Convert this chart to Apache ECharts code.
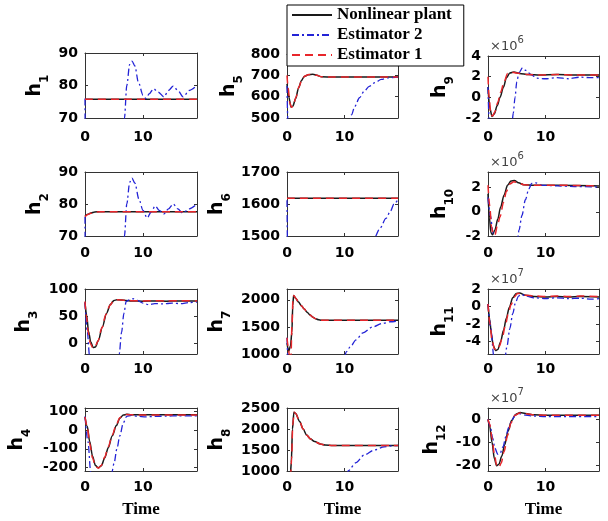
<!DOCTYPE html>
<html><head><meta charset="utf-8">
<script src="https://cdn.jsdelivr.net/npm/echarts@6/dist/echarts.min.js"></script>
<style>html,body{margin:0;padding:0;background:#fff}#c{width:608px;height:521px}</style>
</head><body><div id="c"></div>
<script>
// ---------------- data ----------------
const seriesNames = ['Nonlinear plant', 'Estimator 2', 'Estimator 1'];
const panelSubs = ['1','2','3','4','5','6','7','8','9','10','11','12'];
const timeMax = 19.3;
const xTickValues = [0, 10];
const xLabelName = 'Time';
const yMin = [70, 70, -20, -220, 500, 1500, 1000, 1000, -2, -2, -5.4, -22.5];
const yMax = [90, 90, 100, 120, 800, 1700, 2200, 2500, 4, 3.3, 2, 5];
const yTicks = [
  [70,80,90],[70,80,90],[0,50,100],[-200,-100,0,100],
  [500,600,700,800],[1500,1600,1700],[1000,1500,2000],[1000,1500,2000,2500],
  [-2,0,2,4],[-2,0,2],[-4,-2,0,2],[-20,-10,0]
];
// exponent multiplier (x10^n) shown above panels; values in h9..h12 are given in those units
const yExponent = [null,null,null,null,null,null,null,null,'6','6','7','7'];

const h1_plant = [[0,75.8],[19.3,75.8]];
const h1_est1  = [[0,75.8],[19.3,75.8]];
const h1_est2  = [[0,76],[0.05,60],[6.6,60],[6.8,70],[7.2,80],[7.7,86.5],[8.1,87.5],[8.6,86],[9.2,81],[10,77],[10.5,76],[11.1,77.5],[11.8,79],[12.6,78],[13.6,76.5],[14.4,78.5],[15.2,79.8],[16,78.5],[16.9,76.5],[18,78.5],[19.3,80]];

const h2_plant = [[0,76.3],[0.5,76.8],[1,77.2],[1.7,77.5],[2.5,77.6],[19.3,77.6]];
const h2_est1  = [[0,76],[0.5,76.7],[1,77.1],[1.7,77.4],[2.5,77.6],[19.3,77.6]];
const h2_est2  = [[0,76],[0.05,60],[6.6,60],[6.8,70],[7.2,80],[7.7,86.8],[8.1,88.1],[8.6,86.5],[9.3,81.5],[10,78],[10.7,75.6],[11.4,77.5],[12.1,79.4],[12.8,78],[13.6,76.9],[14.4,78.5],[15.2,80],[16,78.5],[16.8,77.2],[18,78.5],[19.3,80]];

const h3_plant = [[0,75],[0.3,50],[0.6,22],[1.0,2],[1.4,-8],[1.8,-7],[2.3,5],[3,30],[3.7,55],[4.4,72],[5.0,79],[5.5,80],[7,79],[8,78],[10,77.5],[12,78],[14,77.5],[16,78],[19.3,78]];
const h3_est1  = [[0,77],[0.25,50],[0.55,20],[0.9,0],[1.3,-8],[1.7,-8],[2.2,3],[2.9,28],[3.6,53],[4.3,70],[4.9,78],[5.5,80],[7,79],[8,78.5],[10,78],[12,78.5],[14,78],[16,78.5],[19.3,78]];
const h3_est2  = [[0,75],[0.4,20],[0.8,-25],[5.5,-25],[5.9,-20],[6.3,20],[6.7,55],[7.1,77],[7.6,80],[8.3,82],[9,79],[10,74],[11,71],[12,73],[13.5,72.5],[15,74],[16.5,73],[18,75],[19.3,76]];

const h4_plant = [[0,72],[0.4,20],[0.8,-60],[1.3,-140],[1.8,-190],[2.3,-203],[2.8,-192],[3.4,-150],[4.0,-95],[4.7,-30],[5.4,25],[6.0,65],[6.6,82],[7.2,86],[8,84],[10,83],[19.3,83]];
const h4_est1  = [[0,72],[0.4,15],[0.8,-70],[1.3,-150],[1.8,-195],[2.3,-205],[2.8,-190],[3.4,-145],[4.0,-90],[4.7,-25],[5.4,30],[6.0,68],[6.6,82],[7.2,85],[8,83],[10,82],[19.3,82]];
const h4_est2  = [[0,75],[0.5,-60],[1.0,-230],[4.6,-230],[5.0,-180],[5.5,-100],[6.0,-30],[6.6,40],[7.2,75],[8,80],[9,75],[10.5,72],[12,75],[14,76],[16,78],[19.3,78]];

const h5_plant = [[0,660],[0.3,600],[0.7,552],[1.0,555],[1.5,590],[2.0,640],[2.5,675],[3.0,695],[3.7,703],[4.5,705],[5.2,700],[6,693],[8,692],[19.3,692]];
const h5_est1  = [[0,700],[0.2,640],[0.5,570],[0.8,550],[1.1,560],[1.6,600],[2.1,648],[2.6,680],[3.1,697],[3.8,704],[4.5,705],[5.2,700],[6,693],[8,692],[19.3,692]];
const h5_est2  = [[0,650],[0.15,480],[10.9,480],[11.2,514],[11.8,555],[12.6,595],[13.4,625],[14.3,648],[15.3,666],[16.4,681],[17.5,688],[18.9,690],[19.3,692]];

const h6_plant = [[0,1618],[19.3,1618]];
const h6_est1  = [[0,1618],[19.3,1618]];
const h6_est2  = [[0,1612],[0.08,1480],[15.0,1480],[15.2,1495],[16.2,1525],[17.2,1555],[18.0,1578],[18.6,1600],[19.3,1614]];

const h7_plant = [[0,1200],[0.3,1050],[0.6,1150],[0.85,1400],[1.0,1900],[1.15,2080],[1.5,2030],[2,1960],[2.5,1890],[3,1830],[3.5,1770],[4,1720],[4.5,1680],[5,1650],[5.5,1632],[6,1625],[19.3,1622]];
const h7_est1  = [[0,1300],[0.2,1150],[0.4,980],[0.7,980],[0.85,1500],[1.05,2050],[1.2,2080],[1.5,2030],[2,1960],[2.5,1890],[3,1830],[3.5,1770],[4,1720],[4.5,1680],[5,1650],[5.5,1632],[6,1625],[19.3,1622]];
const h7_est2  = [[0,1300],[0.15,950],[10.0,950],[10.3,1040],[11,1130],[12,1260],[13.2,1390],[14.9,1500],[16.6,1565],[18,1595],[19.3,1610]];

const h8_plant = [[0,900],[0.6,950],[0.75,1200],[0.95,2000],[1.2,2400],[1.5,2370],[2.2,2180],[2.8,2000],[3.4,1860],[4.1,1760],[4.8,1700],[5.8,1645],[6.6,1620],[8,1610],[19.3,1610]];
const h8_est1  = [[0,900],[0.65,950],[0.8,1300],[1.0,2100],[1.25,2400],[1.55,2360],[2.2,2180],[2.8,2000],[3.4,1860],[4.1,1760],[4.8,1700],[5.8,1645],[6.6,1620],[8,1610],[19.3,1610]];
const h8_est2  = [[0,900],[10.5,900],[10.6,1000],[12,1200],[13.4,1380],[15.2,1500],[16.9,1575],[18.9,1605],[19.3,1610]];

const h9_plant = [[0,1.0],[0.3,-1.0],[0.7,-1.85],[1.1,-1.6],[1.6,-0.8],[2.1,0],[2.7,1.0],[3.2,1.9],[3.8,2.35],[4.5,2.45],[5.5,2.3],[7,2.2],[9,2.15],[12,2.2],[15,2.15],[19.3,2.15]];
const h9_est1  = [[0,2.0],[0.2,0],[0.5,-1.7],[0.8,-1.8],[1.2,-1.4],[1.7,-0.5],[2.2,0.5],[2.8,1.5],[3.4,2.3],[4.0,2.45],[5,2.35],[7,2.2],[9,2.15],[12,2.2],[15,2.15],[19.3,2.15]];
const h9_est2  = [[0,1.0],[0.2,-2.3],[4.2,-2.3],[4.4,-1.5],[4.7,0],[5.0,1.5],[5.4,2.4],[6.0,2.85],[6.6,2.6],[7.5,2.2],[8.5,1.85],[10,1.8],[12,1.9],[14,1.8],[16,1.95],[18,1.9],[19.3,1.9]];

const h10_plant = [[0,1.5],[0.25,-0.5],[0.5,-1.7],[0.8,-1.9],[1.2,-1.5],[1.7,-0.6],[2.2,0.4],[2.8,1.4],[3.4,2.2],[4.0,2.55],[4.6,2.6],[5.3,2.4],[6.2,2.25],[8,2.2],[12,2.2],[19.3,2.15]];
const h10_est1  = [[0,2.2],[0.3,0.5],[0.6,-1.2],[0.9,-1.9],[1.2,-1.9],[1.7,-1.0],[2.1,-0.4],[2.7,0.8],[3.2,1.7],[3.8,2.3],[4.5,2.5],[5.2,2.4],[6.2,2.25],[8,2.2],[12,2.2],[19.3,2.15]];
const h10_est2  = [[0,1.2],[0.4,-0.3],[0.9,-1.8],[1.2,-2.4],[5.1,-2.4],[5.4,-1.5],[5.9,-0.3],[6.5,1],[7.1,1.9],[7.6,2.35],[8.3,2.4],[9.5,2.2],[12,2.15],[15,2.1],[19.3,2.05]];

const h11_plant = [[0,0.3],[0.3,-1.5],[0.6,-3.2],[0.9,-4.4],[1.3,-5.0],[1.7,-4.9],[2.2,-4.0],[2.7,-2.7],[3.2,-1.3],[3.7,-0.1],[4.3,1.0],[4.9,1.5],[5.5,1.55],[6.5,1.3],[8,1.15],[10,1.1],[12,1.15],[14,1.1],[16,1.15],[19.3,1.1]];
const h11_est1  = [[0,0.3],[0.3,-1.8],[0.7,-3.8],[1.1,-4.8],[1.5,-4.95],[2,-4.5],[2.5,-3.5],[3,-2.2],[3.5,-0.9],[4,0.2],[4.6,1.1],[5.1,1.5],[5.6,1.5],[6.5,1.3],[8,1.2],[10,1.15],[12,1.2],[14,1.15],[16,1.2],[19.3,1.15]];
const h11_est2  = [[0,0.3],[0.5,-2.5],[1.0,-5.6],[3.0,-5.6],[3.3,-4.5],[3.8,-2.5],[4.3,-0.8],[4.8,0.5],[5.3,1.2],[5.8,1.4],[6.5,1.2],[8,1.0],[10,0.9],[12,1.0],[14,0.9],[16,0.95],[18,0.85],[19.3,0.9]];

const h12_plant = [[0,0],[0.3,-3],[0.7,-10],[1.1,-17],[1.5,-20.2],[1.9,-19.5],[2.4,-16],[2.9,-11],[3.5,-5],[4.1,-0.5],[4.8,2.2],[5.6,3.0],[6.5,2.6],[8,2.0],[10,1.8],[19.3,1.8]];
const h12_est1  = [[0,0],[0.3,-2],[0.7,-8],[1.1,-15],[1.5,-20],[1.9,-21],[2.3,-19],[2.8,-14],[3.4,-7],[4.0,-1.5],[4.7,1.8],[5.5,2.8],[6.5,2.5],[8,2],[10,1.8],[19.3,1.8]];
const h12_est2  = [[0,0],[0.4,-3],[0.8,-8],[1.2,-12.5],[1.7,-15.2],[2.1,-14.8],[2.6,-12],[3.1,-7.5],[3.6,-3.5],[4.2,0],[4.8,2.0],[5.5,2.5],[6.5,1.9],[8,1.5],[10,1.3],[19.3,1.3]];

const panelData = [
  [h1_plant,h1_est2,h1_est1],[h2_plant,h2_est2,h2_est1],[h3_plant,h3_est2,h3_est1],[h4_plant,h4_est2,h4_est1],
  [h5_plant,h5_est2,h5_est1],[h6_plant,h6_est2,h6_est1],[h7_plant,h7_est2,h7_est1],[h8_plant,h8_est2,h8_est1],
  [h9_plant,h9_est2,h9_est1],[h10_plant,h10_est2,h10_est1],[h11_plant,h11_est2,h11_est1],[h12_plant,h12_est2,h12_est1]
];

// ---------------- layout / style ----------------
const colLeft = [85, 287, 488];
const colWidth = [112, 111, 111];
const gridTops = [[53,172,289,408],[54,172,289,408],[56,172,289,408]];
const gridBottoms = [118,236,354,471];
const nameGaps = [34,34,45,52, 42,54,54,54, 32,32,32,40];
const xLabelMargins = [12,10,8,9];
const lineStyles = [
  {color:'#1a1a1a', width:1.5, type:'solid'},
  {color:'#2323d6', width:1.3, type:[7,3,2,3]},
  {color:'#e8262b', width:1.5, type:[8,5]}
];
const tickFont = {fontFamily:'DejaVu Sans', fontWeight:'bold', fontSize:14, color:'#000'};
const axisColor = '#333';
const plainNum = v => String(v);

const grids=[], xAxes=[], yAxes=[], series=[], graphics=[];
for (let i=0;i<12;i++){
  const col=Math.floor(i/4), row=i%4;
  const top=gridTops[col][row], bottom=gridBottoms[row];
  grids.push({left:colLeft[col], top:top, width:colWidth[col], height:bottom-top, show:false});
  const common = {type:'value', gridIndex:i, min:0, max:timeMax,
    splitLine:{show:false},
    axisLine:{show:true, onZero:false, lineStyle:{color:axisColor, width:1}},
    axisTick:{show:true, inside:true, length:3, lineStyle:{color:axisColor}, customValues:xTickValues}};
  xAxes.push(Object.assign({}, common, {position:'bottom',
    axisLabel:Object.assign({show:true, margin:xLabelMargins[row], customValues:xTickValues, formatter:plainNum}, tickFont),
    name: row===3 ? xLabelName : '', nameLocation:'middle', nameGap:30,
    nameTextStyle:{fontFamily:'Liberation Serif', fontWeight:'bold', fontSize:17, color:'#000'}}));
  xAxes.push(Object.assign({}, common, {position:'top', axisLabel:{show:false}}));
  const ycommon = {type:'value', gridIndex:i, min:yMin[i], max:yMax[i],
    splitLine:{show:false},
    axisLine:{show:true, onZero:false, lineStyle:{color:axisColor, width:1}},
    axisTick:{show:true, inside:true, length:3, lineStyle:{color:axisColor}, customValues:yTicks[i]}};
  yAxes.push(Object.assign({}, ycommon, {position:'left',
    axisLabel:Object.assign({show:true, margin:7, customValues:yTicks[i], formatter:plainNum}, tickFont),
    name:'{a|h}{b|'+panelSubs[i]+'}', nameLocation:'middle', nameGap:nameGaps[i], nameRotate:90,
    nameTextStyle:{rich:{
      a:{fontFamily:'DejaVu Sans', fontWeight:'bold', fontSize:19, lineHeight:25, verticalAlign:'top', color:'#000'},
      b:{fontFamily:'DejaVu Sans', fontWeight:'bold', fontSize:12, lineHeight:12, verticalAlign:'bottom', color:'#000'}
    }}}));
  yAxes.push(Object.assign({}, ycommon, {position:'right', axisLabel:{show:false}}));
  for (let s=0;s<3;s++){
    series.push({type:'line', name:seriesNames[s], xAxisIndex:2*i, yAxisIndex:2*i,
      data:panelData[i][s], symbol:'none', showSymbol:false, smooth:0.3, smoothMonotone:'x',
      clip:true, lineStyle:lineStyles[s], itemStyle:{color:lineStyles[s].color}, z:2+s, animation:false});
  }
  if (yExponent[i]){
    graphics.push({type:'text', left:colLeft[col]+2, top:top-21, z:20,
      style:{text:'{m|×10}{e|'+yExponent[i]+'}', rich:{
        m:{fontFamily:'DejaVu Sans', fontSize:13, lineHeight:18, verticalAlign:'bottom', fill:'#444'},
        e:{fontFamily:'DejaVu Sans', fontSize:10, lineHeight:10, verticalAlign:'top', fill:'#444'}
      }}});
  }
}

const chart = echarts.init(document.getElementById('c'), null, {renderer:'canvas'});
chart.setOption({
  animation:false,
  backgroundColor:'#fff',
  grid:grids, xAxis:xAxes, yAxis:yAxes, series:series, graphic:graphics,
  legend:{
    data:seriesNames, orient:'vertical', left:287, top:5,
    itemWidth:40, itemHeight:10, itemGap:0, padding:[0,12,1,4],
    itemStyle:{opacity:0},
    backgroundColor:'#fff', borderColor:'#000', borderWidth:1, borderRadius:0,
    textStyle:{fontFamily:'Liberation Serif', fontWeight:'bold', fontSize:17, lineHeight:20, color:'#000'},
    selectedMode:false, z:10
  }
});
</script></body></html>
